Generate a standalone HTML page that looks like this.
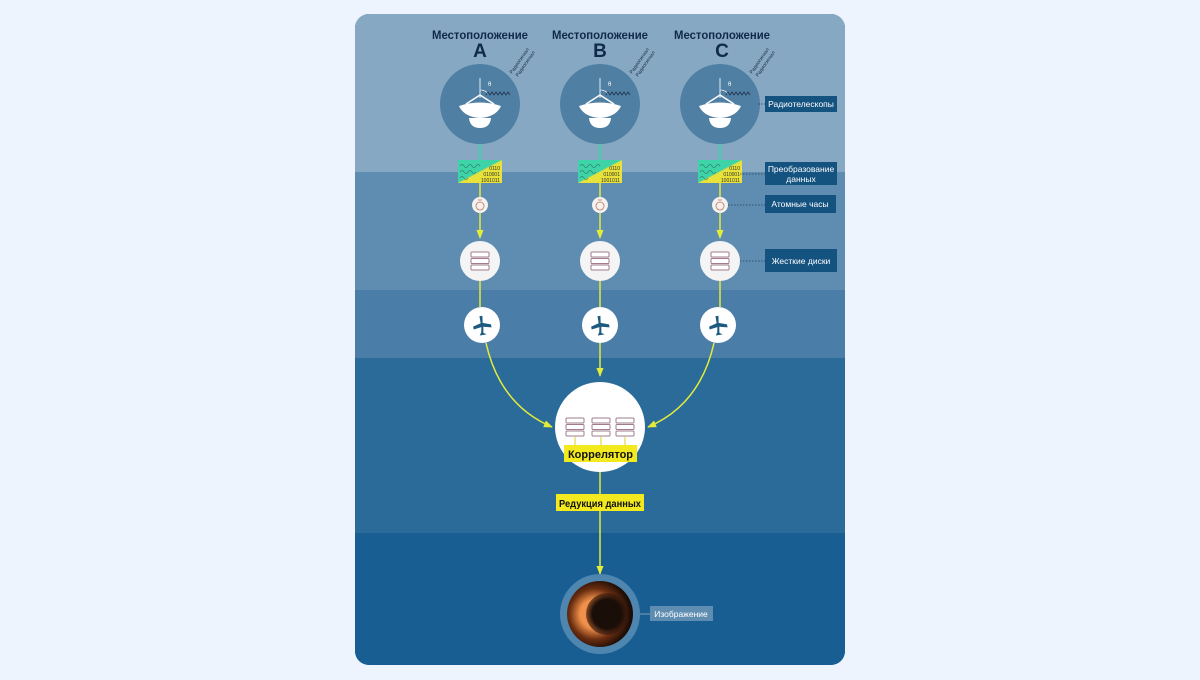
<!DOCTYPE html>
<html><head><meta charset="utf-8"><style>
html,body{margin:0;padding:0;background:#eef4fd;}
svg{display:block}
text{font-family:"Liberation Sans",sans-serif}
</style></head><body>
<svg width="1200" height="680" viewBox="0 0 1200 680" xmlns="http://www.w3.org/2000/svg">
<defs>
<clipPath id="card"><rect x="355" y="14" width="490" height="651" rx="14"/></clipPath>
<linearGradient id="convg" x1="0" y1="0" x2="1" y2="1"><stop offset="0.48" stop-color="#3fd3a8"/><stop offset="0.52" stop-color="#e8e23a"/></linearGradient>
<radialGradient id="bh" cx="0.42" cy="0.5" r="0.55"><stop offset="0.4" stop-color="#f0904a"/><stop offset="0.7" stop-color="#6a2d10"/><stop offset="1" stop-color="#1a0c06"/></radialGradient>
<radialGradient id="bhc" cx="0.5" cy="0.5" r="0.5"><stop offset="0.7" stop-color="#1a0e08"/><stop offset="1" stop-color="#3a1a0c" stop-opacity="0.6"/></radialGradient>
<marker id="ah" viewBox="0 0 10 10" refX="9" refY="5" markerWidth="6" markerHeight="6" orient="auto"><path d="M0,1 L10,5 L0,9 z" fill="#e3ec3a"/></marker>
<g id="disk"><rect x="-9" y="-9" width="18" height="5" rx="1" fill="#fff" stroke="#a07c8c" stroke-width="1"/><rect x="-9" y="-2.5" width="18" height="5" rx="1" fill="#fff" stroke="#a07c8c" stroke-width="1"/><rect x="-9" y="4" width="18" height="5" rx="1" fill="#fff" stroke="#a07c8c" stroke-width="1"/></g>
<g id="plane"><path d="M-1,-9 L2,-9 L1,-2 L9,1 L9,4 L1,2 L0,8 L3,10 L-4,10 L-2,7 L-1,2 L-9,3 L-9,0 L-1,-2 z" fill="#1d5a80" transform="rotate(-10)"/></g>
</defs>
<rect x="355" y="14" width="490" height="651" rx="14" fill="#185e92"/>
<g clip-path="url(#card)">
<rect x="355" y="14" width="490" height="158" fill="#87a8c3"/>
<rect x="355" y="172" width="490" height="118" fill="#5f8db2"/>
<rect x="355" y="290" width="490" height="68" fill="#4a7ea8"/>
<rect x="355" y="358" width="490" height="175" fill="#2b6b9a"/>
<rect x="355" y="533" width="490" height="132" fill="#185e92"/>
</g>

<g stroke="#3fd3a8" stroke-width="2"><line x1="480" y1="144" x2="480" y2="160"/><line x1="600" y1="144" x2="600" y2="160"/><line x1="720" y1="144" x2="720" y2="160"/></g>
<g stroke="#e3ec3a" stroke-width="1.5" fill="none">
<line x1="480" y1="183" x2="480" y2="197"/><line x1="600" y1="183" x2="600" y2="197"/><line x1="720" y1="183" x2="720" y2="197"/>
<line x1="480" y1="213" x2="480" y2="238" marker-end="url(#ah)"/><line x1="600" y1="213" x2="600" y2="238" marker-end="url(#ah)"/><line x1="720" y1="213" x2="720" y2="238" marker-end="url(#ah)"/>
<line x1="480" y1="281" x2="480" y2="307"/><line x1="600" y1="281" x2="600" y2="307"/><line x1="720" y1="281" x2="720" y2="307"/>
<line x1="600" y1="343" x2="600" y2="376" marker-end="url(#ah)"/>
<path d="M486,343 Q500,405 552,427" marker-end="url(#ah)"/>
<path d="M714,343 Q700,405 648,427" marker-end="url(#ah)"/>
<line x1="600" y1="472" x2="600" y2="494"/>
<line x1="600" y1="511" x2="600" y2="574" marker-end="url(#ah)"/>
</g>

<g fill="#0f2a4a" text-anchor="middle">
<text x="480" y="39" font-size="12" font-weight="bold" textLength="96" lengthAdjust="spacingAndGlyphs">Местоположение</text>
<text x="480" y="57" font-size="19" font-weight="bold">A</text>
<text x="600" y="39" font-size="12" font-weight="bold" textLength="96" lengthAdjust="spacingAndGlyphs">Местоположение</text>
<text x="600" y="57" font-size="19" font-weight="bold">B</text>
<text x="722" y="39" font-size="12" font-weight="bold" textLength="96" lengthAdjust="spacingAndGlyphs">Местоположение</text>
<text x="722" y="57" font-size="19" font-weight="bold">C</text>
</g>

<g id="tel">
<circle cx="480" cy="104" r="40" fill="#4f7fa3"/>
<line x1="480" y1="78" x2="480" y2="98" stroke="#dfe8ef" stroke-width="1"/>
<path d="M480,90 Q486,90 488,94" stroke="#dfe8ef" fill="none" stroke-width="0.8"/>
<text x="488" y="86" font-size="6" fill="#fff">θ</text>
<path d="M486,95 l2,-3 l2,3 l2,-3 l2,3 l2,-3 l2,3 l2,-3 l2,3 l2,-3 l2,3 l2,-3 l2,3" stroke="#1a2c44" fill="none" stroke-width="0.7"/>
<path d="M459,106 Q480,99 501,106 Q496,117 480,118 Q464,117 459,106 z" fill="#fff"/>
<path d="M466,104 L480,95 L494,104" stroke="#fff" fill="none" stroke-width="1.5"/>
<path d="M469,118 L491,118 Q490,128 480,128 Q470,128 469,118 z" fill="#fff"/>
<text x="512" y="74" font-size="5" fill="#1a2c44" transform="rotate(-55 512 74)">Радиосигнал</text>
<text x="518" y="77" font-size="5" fill="#1a2c44" transform="rotate(-55 518 77)">Радиосигнал</text>
</g>
<use href="#tel" x="120"/>
<use href="#tel" x="240"/>

<g id="cv">
<rect x="458" y="160" width="44" height="23" fill="url(#convg)"/>
<path d="M460,166 q2,-3 4,0 q2,3 4,0 q2,-3 4,0 q2,3 4,0 q2,-3 4,0 M460,172 q2,-3 4,0 q2,3 4,0 q2,-3 4,0 q2,3 4,0 M460,178 q2,-3 4,0 q2,3 4,0" stroke="#2a6a5a" fill="none" stroke-width="0.6"/>
<text x="500" y="170" font-size="5" text-anchor="end" fill="#333" font-family="Liberation Mono">0110</text>
<text x="500" y="176" font-size="5" text-anchor="end" fill="#333" font-family="Liberation Mono">010001</text>
<text x="500" y="182" font-size="5" text-anchor="end" fill="#333" font-family="Liberation Mono">1001011</text>
</g>
<use href="#cv" x="120"/>
<use href="#cv" x="240"/>

<g id="clk"><circle cx="480" cy="205" r="8" fill="#f4f1ee"/><circle cx="480" cy="206" r="4" fill="none" stroke="#c07860" stroke-width="0.8"/><line x1="478" y1="200" x2="482" y2="200" stroke="#c07860" stroke-width="0.8"/></g>
<use href="#clk" x="120"/><use href="#clk" x="240"/>

<g id="dc"><circle cx="480" cy="261" r="20" fill="#f4f4f4"/><use href="#disk" x="480" y="261"/></g>
<use href="#dc" x="120"/><use href="#dc" x="240"/>

<g id="pc"><circle cx="482" cy="325" r="18" fill="#fff"/><use href="#plane" x="482" y="325"/></g>
<use href="#pc" x="118"/><use href="#pc" x="236"/>

<circle cx="600" cy="427" r="45" fill="#fff"/>
<use href="#disk" x="575" y="427"/><use href="#disk" x="601" y="427"/><use href="#disk" x="625" y="427"/>
<g stroke="#d8d020" stroke-width="1"><line x1="575" y1="437" x2="575" y2="445"/><line x1="601" y1="437" x2="601" y2="445"/><line x1="625" y1="437" x2="625" y2="445"/></g>
<rect x="564" y="445" width="73" height="17" fill="#f2ea1e"/>
<text x="600.5" y="458" font-size="11" font-weight="bold" text-anchor="middle" fill="#111">Коррелятор</text>
<rect x="556" y="494" width="88" height="17" fill="#f2ea1e"/>
<text x="600" y="507" font-size="10" font-weight="bold" text-anchor="middle" fill="#111" textLength="82" lengthAdjust="spacingAndGlyphs">Редукция данных</text>

<circle cx="600" cy="614" r="40" fill="#4e86b0"/>
<circle cx="600" cy="614" r="33" fill="url(#bh)"/>
<circle cx="607" cy="614" r="21" fill="url(#bhc)"/>

<g stroke="#2a3a50" stroke-width="0.8" stroke-dasharray="1.5,1.5">
<line x1="758" y1="104" x2="765" y2="104"/><line x1="740" y1="174" x2="765" y2="174"/><line x1="728" y1="205" x2="765" y2="205"/><line x1="740" y1="261" x2="765" y2="261"/>
</g>
<line x1="640" y1="614" x2="650" y2="614" stroke="#9ab" stroke-width="0.8"/>
<g fill="#14527f">
<rect x="765" y="96" width="72" height="16"/>
<rect x="765" y="162" width="72" height="23"/>
<rect x="765" y="195" width="71" height="18"/>
<rect x="765" y="249" width="72" height="23"/>
</g>
<rect x="650" y="606" width="63" height="15" fill="#5f8db2"/>
<g fill="#fff" font-size="8.5" text-anchor="middle">
<text x="801" y="107">Радиотелескопы</text>
<text x="801" y="172">Преобразование</text>
<text x="801" y="182">данных</text>
<text x="800" y="207">Атомные часы</text>
<text x="801" y="264">Жесткие диски</text>
<text x="681" y="617">Изображение</text>
</g>
</svg>
</body></html>
